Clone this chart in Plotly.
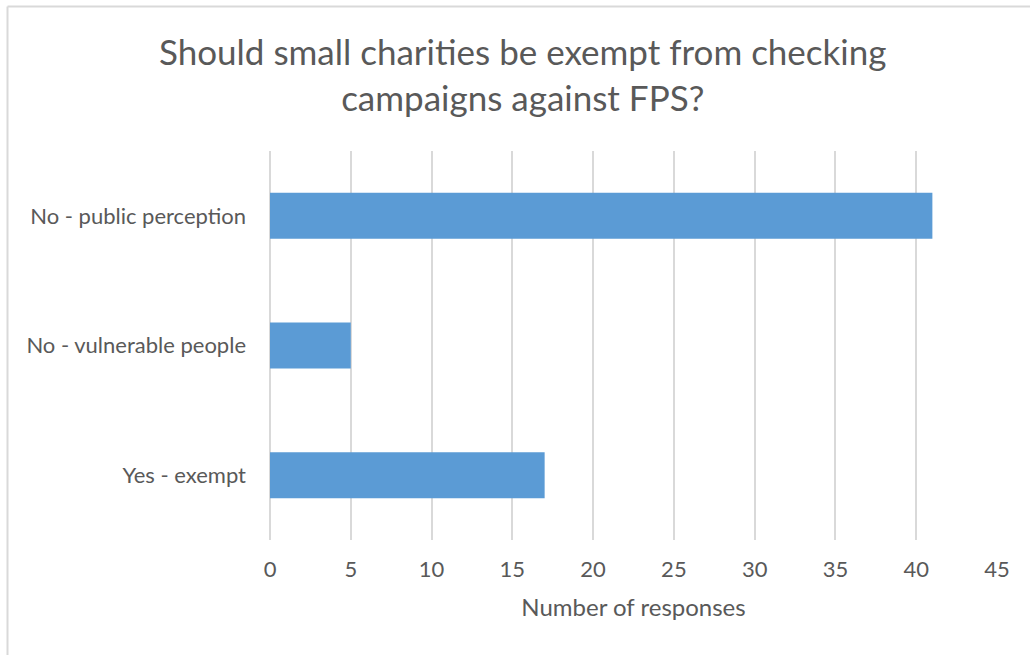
import plotly.graph_objects as go

categories = ["Yes - exempt", "No - vulnerable people", "No - public perception"]
responses = [17, 5, 41]
x_ticks = [0, 5, 10, 15, 20, 25, 30, 35, 40, 45]

title_text = "Should small charities be exempt from checking<br>campaigns against FPS?"
x_title = "Number of responses"

L, R, T, B = 270, 33, 151, 115
W, H = 1030, 655
plot_w = W - L - R
plot_h = H - T - B

fig = go.Figure(
    go.Bar(
        x=responses,
        y=categories,
        orientation="h",
        marker=dict(color="#5B9BD5", line=dict(width=0)),
        width=0.355,
    )
)

fig.update_layout(
    width=W,
    height=H,
    margin=dict(l=L, r=R, t=T, b=B),
    paper_bgcolor="white",
    plot_bgcolor="white",
    font=dict(family="Lato, Open Sans, sans-serif", color="#595959", size=22),
    showlegend=False,
    bargap=0.645,
)

# chart title
fig.add_annotation(
    text=title_text,
    xref="paper", yref="paper",
    x=(522 - L) / plot_w,
    y=1 + (T - 74) / plot_h,
    xanchor="center", yanchor="middle",
    showarrow=False,
    font=dict(size=35, color="#595959"),
)

fig.update_xaxes(
    range=[0, 45],
    tickvals=x_ticks,
    showgrid=True,
    gridcolor="#D9D9D9",
    gridwidth=1.5,
    zeroline=True,
    zerolinecolor="#D9D9D9",
    zerolinewidth=1.5,
    showline=False,
    ticks="",
    ticklabelstandoff=14,
    tickfont=dict(size=22, color="#595959"),
    title=dict(text=x_title, font=dict(size=24, color="#595959"), standoff=18),
)

fig.update_yaxes(
    showgrid=False,
    zeroline=False,
    showline=False,
    ticks="",
    ticklabelstandoff=23,
    tickfont=dict(size=22, color="#595959"),
)

# outer chart frame: top and left edges
frame_left = (7.5 - L) / plot_w
frame_top = 1 + (T - 6.5) / plot_h
border = dict(color="#D9D9D9", width=2)
fig.add_shape(type="line", xref="paper", yref="paper",
              x0=frame_left, x1=1.5, y0=frame_top, y1=frame_top, line=border)
fig.add_shape(type="line", xref="paper", yref="paper",
              x0=frame_left, x1=frame_left, y0=-1.0, y1=frame_top, line=border)

fig.write_html("out.html")
